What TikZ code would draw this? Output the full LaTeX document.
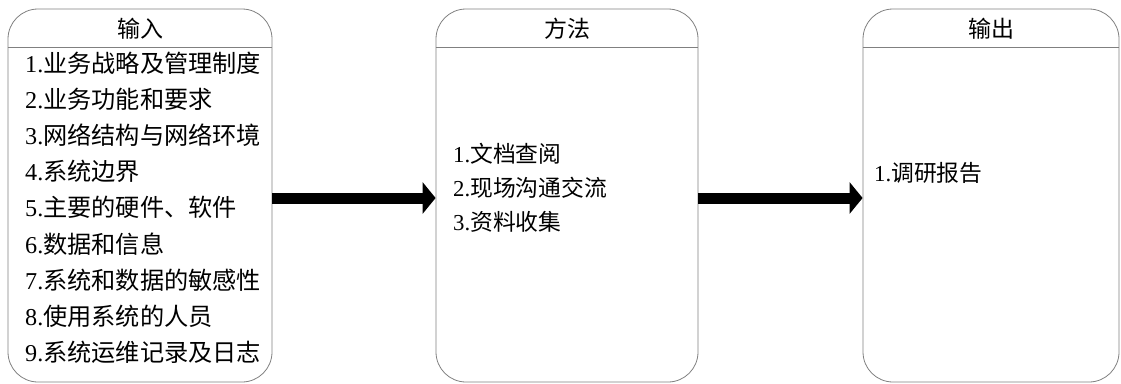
\documentclass[tikz,border=0pt]{standalone}
\usepackage{fontspec}
\setmainfont{Liberation Serif}
\newfontfamily\cjk{Noto Sans CJK SC}
\usetikzlibrary{arrows.meta}
\newcommand\zh[1]{{\cjk #1}}
\tikzset{
  panel/.style={draw=black!50, line width=0.8pt, rounded corners=30pt, inner sep=0pt},
  headrule/.style={draw=black!50, line width=0.8pt},
  headtext/.style={inner sep=0pt, anchor=base, font=\fontsize{23}{26}\selectfont},
  bigitem/.style={inner sep=0pt, anchor=base west, font=\fontsize{24.2}{28}\selectfont},
  smallitem/.style={inner sep=0pt, anchor=base west, font=\fontsize{22.8}{26}\selectfont},
  flow/.style={line width=11pt, -{Triangle[length=13pt,width=31pt]}}
}
\begin{document}
\begin{tikzpicture}[x=1pt,y=-1pt]
\useasboundingbox (0,0) rectangle (1121,383);
% panels
\node[panel, minimum width=264pt, minimum height=373pt] (inp) at (140,195.5) {};
\node[panel, minimum width=262pt, minimum height=373pt] (meth) at (567,195.5) {};
\node[panel, minimum width=256pt, minimum height=373pt] (outp) at (991,195.5) {};
% header rules
\coordinate (hr) at (0,47);
\draw[headrule] (inp.west |- hr) -- (inp.east |- hr);
\draw[headrule] (meth.west |- hr) -- (meth.east |- hr);
\draw[headrule] (outp.west |- hr) -- (outp.east |- hr);
% headers
\node[headtext] (hin) at (140,37) {\zh{输入}};
\node[headtext] (hme) at (567,37) {\zh{方法}};
\node[headtext] (hou) at (991,37) {\zh{输出}};
% input items
\node[bigitem] (i1) at (25,72.5) {1.\zh{业务战略及管理制度}};
\node[bigitem] (i2) at (25,108.6) {2.\zh{业务功能和要求}};
\node[bigitem] (i3) at (25,144.7) {3.\zh{网络结构与网络环境}};
\node[bigitem] (i4) at (25,180.8) {4.\zh{系统边界}};
\node[bigitem] (i5) at (25,216.9) {5.\zh{主要的硬件、软件}};
\node[bigitem] (i6) at (25,253.0) {6.\zh{数据和信息}};
\node[bigitem] (i7) at (25,289.1) {7.\zh{系统和数据的敏感性}};
\node[bigitem] (i8) at (25,325.2) {8.\zh{使用系统的人员}};
\node[bigitem] (i9) at (25,361.3) {9.\zh{系统运维记录及日志}};
% method items
\node[smallitem] (m1) at (453,162.5) {1.\zh{文档查阅}};
\node[smallitem] (m2) at (453,196.5) {2.\zh{现场沟通交流}};
\node[smallitem] (m3) at (453,230.5) {3.\zh{资料收集}};
% output items
\node[smallitem] (o1) at (874,181.5) {1.\zh{调研报告}};
% arrows
\coordinate (ay) at (0,198);
\draw[flow] (inp.east |- ay) -- (meth.west |- ay);
\draw[flow] (meth.east |- ay) -- (outp.west |- ay);
\end{tikzpicture}
\end{document}
